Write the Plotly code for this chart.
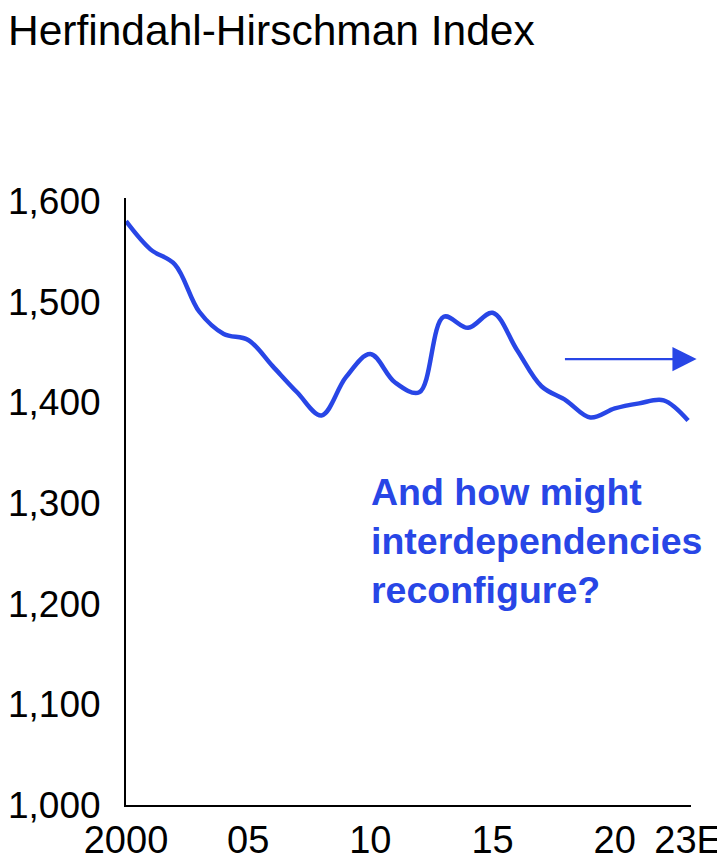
import plotly.graph_objects as go

years = list(range(2000, 2024))
hhi = [1580, 1552, 1537, 1490, 1468, 1462, 1436, 1410, 1387, 1425, 1448, 1420,
       1410, 1485, 1474, 1489, 1452, 1416, 1402, 1385, 1394, 1399, 1402, 1382]
tick_vals = [2000, 2005, 2010, 2015, 2020, 2023]
tick_text = ["2000", "05", "10", "15", "20", "23E"]
y_ticks = [1000, 1100, 1200, 1300, 1400, 1500, 1600]

arrow_start = (2017.9, 1443)
arrow_end = (2023.35, 1443)
note_pos = (2009.95, 1262)
note_text = "And how might<br>interdependencies<br>reconfigure?"

BLUE = "#2846E6"
FONT = "Liberation Sans, Arial, sans-serif"

fig = go.Figure()
fig.add_trace(go.Scatter(
    x=years, y=hhi, mode="lines",
    line=dict(color=BLUE, width=4.5, shape="spline", smoothing=1.0),
    hoverinfo="skip", showlegend=False, cliponaxis=False,
))

fig.add_annotation(
    x=arrow_end[0], y=arrow_end[1], ax=arrow_start[0], ay=arrow_start[1],
    xref="x", yref="y", axref="x", ayref="y",
    showarrow=True, arrowhead=2, arrowsize=2.2, arrowwidth=2.2,
    arrowcolor=BLUE, text="",
)
fig.add_annotation(
    x=note_pos[0], y=note_pos[1], xref="x", yref="y",
    text=note_text, showarrow=False, xanchor="left", yanchor="middle",
    align="left", font=dict(family=FONT, size=37.5, color=BLUE, weight="bold"),
)

fig.update_layout(
    width=717, height=853,
    margin=dict(l=118, r=34, t=190, b=56),
    paper_bgcolor="white", plot_bgcolor="white",
    title=dict(text="Herfindahl-Hirschman Index", x=0.0, xref="container",
               xanchor="left", y=0.991, yref="container", yanchor="top",
               font=dict(family=FONT, size=42.5, color="black"), pad=dict(t=0, l=0)),
    font=dict(family=FONT, color="black"),
    xaxis=dict(range=[2000, 2023.12], tickvals=tick_vals, ticktext=tick_text,
               showgrid=False, zeroline=False, showline=True, linecolor="black",
               linewidth=2, ticks="", tickfont=dict(size=38), ticklabelstandoff=0,
               automargin=False),
    yaxis=dict(range=[1000, 1603], tickvals=y_ticks, tickformat=",d",
               showgrid=False, zeroline=False, showline=True, linecolor="black",
               linewidth=2, ticks="", tickfont=dict(size=37), ticklabelstandoff=16,
               automargin=False),
)

fig.write_html("out.html")
